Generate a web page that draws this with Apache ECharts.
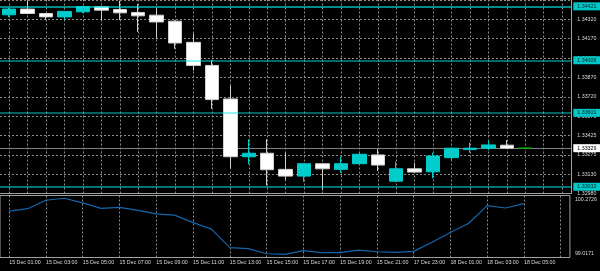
<!DOCTYPE html>
<html><head><meta charset="utf-8">
<script src="https://cdn.jsdelivr.net/npm/echarts@6/dist/echarts.min.js"></script>
<style>html,body{margin:0;padding:0;background:#000;}#c{width:600px;height:271px;}</style>
</head><body><div id="c"></div>
<script>
const times = ['15 Dec 01:00','15 Dec 02:00','15 Dec 03:00','15 Dec 04:00','15 Dec 05:00','15 Dec 06:00','15 Dec 07:00','15 Dec 08:00','15 Dec 09:00','15 Dec 10:00','15 Dec 11:00','15 Dec 12:00','15 Dec 13:00','15 Dec 14:00','15 Dec 15:00','15 Dec 16:00','15 Dec 17:00','15 Dec 18:00','15 Dec 19:00','15 Dec 20:00','15 Dec 21:00','15 Dec 22:00','17 Dec 23:00','18 Dec 00:00','18 Dec 01:00','18 Dec 02:00','18 Dec 03:00','18 Dec 04:00','18 Dec 05:00'];
const opens  = [1.34356,1.34400,1.34366,1.34340,1.34379,1.34418,1.34397,1.34374,1.34353,1.34307,1.34144,1.33966,1.33708,1.33263,1.33290,1.33166,1.33114,1.33209,1.33166,1.33209,1.33277,1.33075,1.33170,1.33147,1.33256,1.33318,1.33329,1.33352,1.33329];
const closes = [1.34400,1.34366,1.34340,1.34382,1.34418,1.34392,1.34371,1.34348,1.34301,1.34139,1.33966,1.33703,1.33263,1.33290,1.33163,1.33114,1.33209,1.33170,1.33209,1.33282,1.33199,1.33170,1.33145,1.33269,1.33329,1.33329,1.33354,1.33329,1.33329];
const lows   = [1.34338,1.34361,1.34315,1.34315,1.34369,1.34315,1.34315,1.34224,1.34173,1.34095,1.33927,1.33633,1.33176,1.33205,1.33042,1.33088,1.33070,1.33005,1.33140,1.33199,1.33153,1.33067,1.33137,1.33096,1.33230,1.33294,1.33313,1.33323,1.33329];
const highs  = [1.34408,1.34462,1.34369,1.34384,1.34425,1.34423,1.34465,1.34439,1.34405,1.34315,1.34212,1.34005,1.33811,1.33398,1.33398,1.33294,1.33215,1.33215,1.33263,1.33292,1.33321,1.33225,1.33217,1.33294,1.33331,1.33372,1.33391,1.33391,1.33329];
const indicator = [99.958,100.005,100.176,100.217,100.122,100.011,100.032,99.970,99.902,99.875,99.723,99.593,99.217,99.196,99.093,99.079,99.155,99.114,99.114,99.167,99.134,99.120,99.141,99.326,99.525,99.711,100.067,100.019,100.108];
const priceTicks = ['1.32980','1.33130','1.33275','1.33425','1.33570','1.33720','1.33870','1.34020','1.34170','1.34320',''];
const priceLevels = [1.34421, 1.34006, 1.33601, 1.33032];
const bidPrice = 1.33329;
const priceMin = 1.32980, priceMax = 1.34470;
const indicatorMin = 99.0171, indicatorMax = 100.2726;

const cats = times.concat(['', '']);
const FONT = 'Liberation Sans';
const TXT = '#d8d8d8';
const gridDot = {color: '#8c8c8c', width: 1, type: [2, 2]};
const levelAlpha = [0.6, 0.45, 0.42, 0.5];

const candleData = opens.map((o, i) => {
  const item = {value: [o, closes[i], lows[i], highs[i]]};
  if (i === opens.length - 1) {
    item.itemStyle = {color: '#00b400', color0: '#00b400', borderColor: '#00b400', borderColor0: '#00b400', borderColorDoji: '#00b400'};
  }
  return item;
});

const levelLines = priceLevels.map((p, i) => ({
  yAxis: p,
  lineStyle: {color: 'rgba(0,230,230,' + levelAlpha[i] + ')', width: 2, type: 'solid'},
  label: {backgroundColor: '#00c8c8', color: '#102020'}
}));
const bidLine = [{
  yAxis: bidPrice,
  lineStyle: {color: '#808080', width: 1, type: 'solid'},
  label: {show: true, position: 'end', distance: 2, fontSize: 5.3, fontFamily: FONT, padding: [1, 8, 1, 4], lineHeight: 6,
          backgroundColor: '#ffffff', color: '#000000', formatter: p => Number(p.value).toFixed(5)}
}];

const chart = echarts.init(document.getElementById('c'), null, {renderer: 'canvas'});
chart.setOption({
  backgroundColor: '#000000',
  animation: false,
  grid: [
    {left: -3.775, top: 0, width: 575.05, height: 193.5},
    {left: -3.775, top: 195.5, width: 575.05, height: 62, show: true, borderColor: '#a0a0a0', borderWidth: 1, backgroundColor: '#000'}
  ],
  xAxis: [
    {type: 'category', gridIndex: 0, data: cats, boundaryGap: true,
     axisLine: {show: true, lineStyle: {color: '#a0a0a0'}}, axisTick: {show: false}, axisLabel: {show: false}, splitLine: {show: false}},
    {type: 'category', gridIndex: 1, data: cats, boundaryGap: true,
     axisLine: {show: false}, axisTick: {show: false}, splitLine: {show: false},
     axisLabel: {show: true, interval: 1, align: 'left', color: TXT, fontSize: 5.3, fontFamily: FONT, margin: 2.5}}
  ],
  yAxis: [
    {type: 'value', gridIndex: 0, min: priceMin, max: priceMax, show: false},
    {type: 'value', gridIndex: 0, position: 'right', min: 0, max: 10, interval: 1,
     axisLine: {show: true, lineStyle: {color: '#a0a0a0'}}, axisTick: {show: false},
     axisLabel: {color: TXT, fontSize: 5.3, fontFamily: FONT, margin: 6, formatter: v => priceTicks[v] || ''},
     splitLine: {show: true, lineStyle: gridDot}},
    {type: 'value', gridIndex: 1, min: indicatorMin, max: indicatorMax, show: false},
    {type: 'value', gridIndex: 1, position: 'right', min: 0, max: 16, interval: 1,
     axisLine: {show: false}, axisTick: {show: false}, splitLine: {show: false},
     axisLabel: {color: TXT, fontSize: 5.3, fontFamily: FONT, margin: 5,
       formatter: v => v === 15 ? indicatorMax.toFixed(4) : (v === 1 ? indicatorMin.toFixed(4) : '')}}
  ],
  series: [
    {
      type: 'line', xAxisIndex: 0, yAxisIndex: 0, z: 1, silent: true,
      data: cats.map(() => null), showSymbol: false, lineStyle: {opacity: 0},
      markLine: {silent: true, z: 1, symbol: ['none', 'none'], label: {show: false}, lineStyle: gridDot,
        data: cats.map((c, i) => ({xAxis: i}))}
    },
    {
      type: 'line', xAxisIndex: 0, yAxisIndex: 0, z: 2, silent: true,
      data: cats.map(() => null), showSymbol: false, lineStyle: {opacity: 0},
      markLine: {silent: true, z: 2, symbol: ['none', 'none'], precision: 5, data: bidLine}
    },
    {
      type: 'candlestick', xAxisIndex: 0, yAxisIndex: 0, z: 3, barWidth: 14,
      data: candleData,
      itemStyle: {color: '#00cccc', color0: '#ffffff', borderColor: '#00cccc', borderColor0: '#d0d0d0', borderWidth: 1},
      markLine: {
        silent: true, z: 6, symbol: ['none', 'none'], precision: 5,
        label: {show: true, position: 'end', distance: 2, fontSize: 5.3, fontFamily: FONT, padding: [1, 8, 1, 4], lineHeight: 6,
                formatter: p => Number(p.value).toFixed(5)},
        data: levelLines
      }
    },
    {
      type: 'line', xAxisIndex: 1, yAxisIndex: 2, z: 3, data: indicator, showSymbol: false,
      lineStyle: {color: '#1465aa', width: 1.2}, itemStyle: {color: '#1465aa'},
      markLine: {silent: true, z: 1, symbol: ['none', 'none'], label: {show: false}, lineStyle: gridDot,
        data: cats.map((c, i) => i).filter(i => i % 2 === 0).map(i => ({xAxis: i}))}
    }
  ]
});
</script></body></html>
